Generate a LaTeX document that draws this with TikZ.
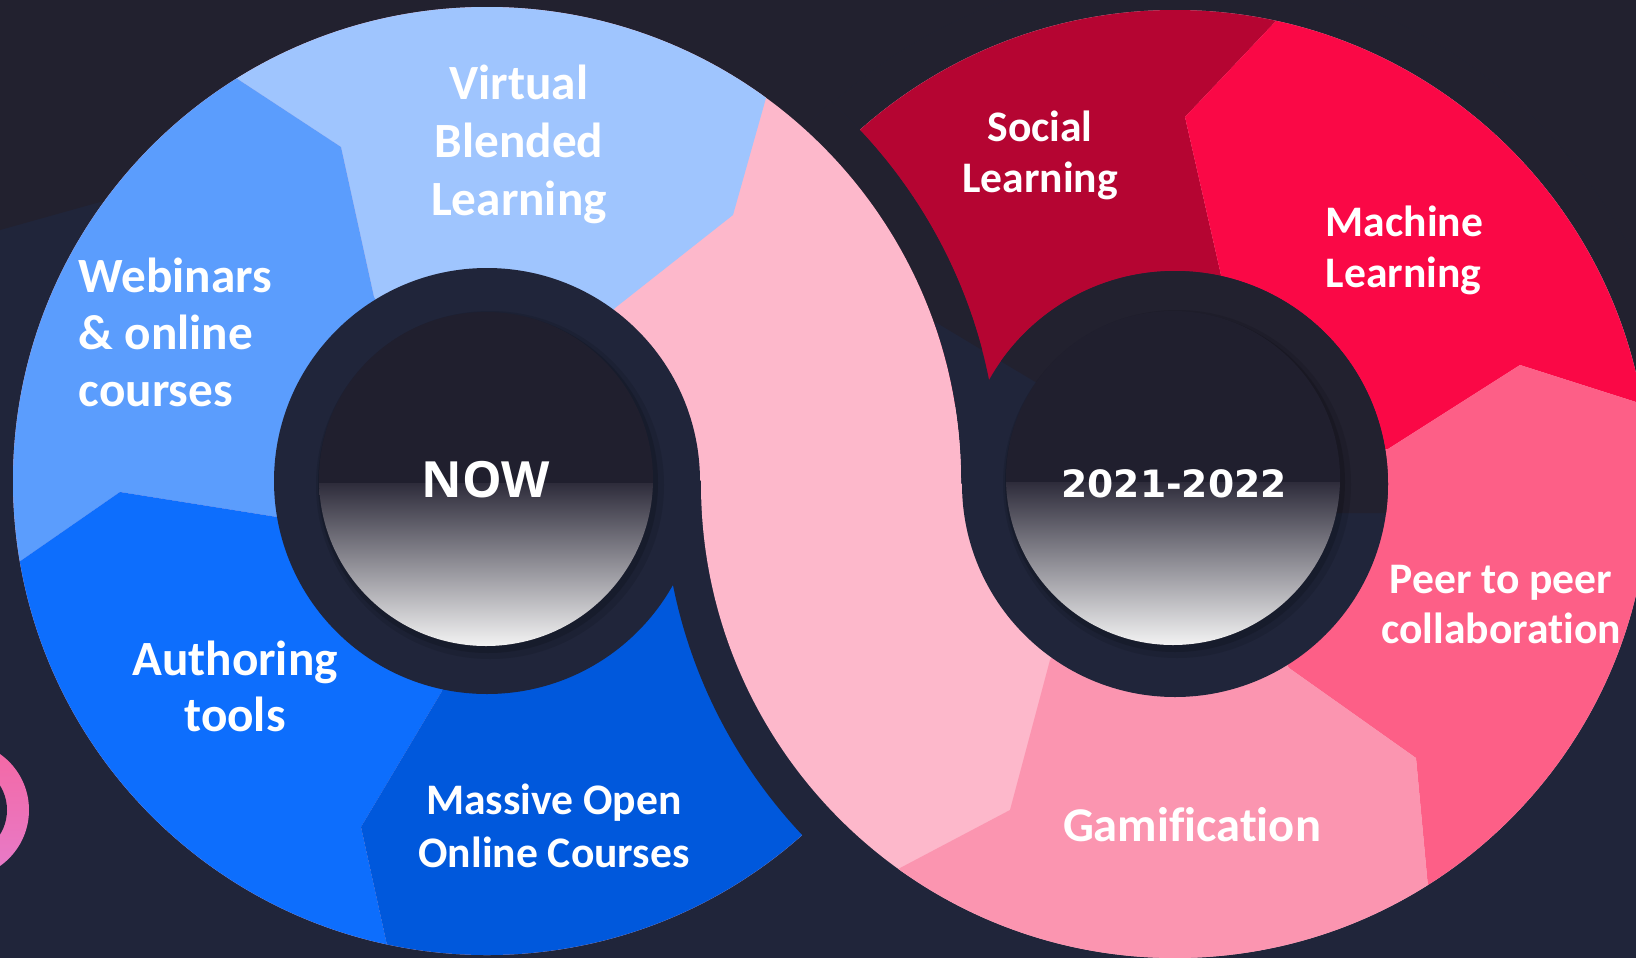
\documentclass[tikz,border=0pt]{standalone}
\usepackage{fontspec}
\setmainfont{Carlito}[Ligatures={CommonOff}]
\newfontfamily\nowfont{Open Sans}
\newfontfamily\yearfont{DejaVu Sans}
\usetikzlibrary{calc}
\definecolor{bgnavy}{HTML}{20253A}
\definecolor{bgdark}{HTML}{22212F}
\definecolor{clight}{HTML}{9FC5FE}
\definecolor{cweb}{HTML}{5B9DFD}
\definecolor{cauth}{HTML}{0D6EFD}
\definecolor{cmooc}{HTML}{0058DC}
\definecolor{cpink}{HTML}{FDB8CB}
\definecolor{csocial}{HTML}{B50532}
\definecolor{cmach}{HTML}{FA0846}
\definecolor{cpeer}{HTML}{FD5F87}
\definecolor{cgam}{HTML}{FB95B0}
\definecolor{innerdark}{HTML}{201F2E}
\definecolor{gtop}{HTML}{2E2C3B}
\definecolor{gbot}{HTML}{F4F4F4}
\definecolor{ringtop}{HTML}{F567A2}
\definecolor{ringbot}{HTML}{E67CCB}

\newcommand\bgpaint{%
  \fill[bgnavy] (-60,-160) rectangle (1860,1160);%
  \fill[bgdark] (-60,-160) -- (-60,247) -- (0,230) -- (100,202) -- (937,323) -- (1254,513) -- (1860,513) -- (1860,-160) -- cycle;}

\newcommand\leftdisc{%
  \fill[cpink] (-60,-160) rectangle (1200,1160);%
  \fill[clight] (L) -- (374,297) -- (341,147) -- (236,78) -- (120,0) -- (120,-100) -- (820,-100) -- (800,-20) -- (766,98) -- (733,215) -- (615,308) -- cycle;%
  \fill[cweb] (L) -- (374,297) -- (341,147) -- (236,78) -- (120,0) -- (-100,0) -- (-80,631) -- (19,562) -- (120,492) -- (277,517) -- cycle;%
  \fill[cauth] (L) -- (277,517) -- (120,492) -- (19,562) -- (-80,631) -- (-80,1050) -- (410,1050) -- (387,945) -- (361,827) -- (442,691) -- cycle;%
  \fill[cmooc] (L) -- (442,691) -- (361,827) -- (387,945) -- (410,1050) -- (1100,1050) -- (1051,686) -- cycle;}

\newcommand\rightdisc{%
  \fill[cpink] (500,-160) rectangle (1860,1160);%
  \fill[csocial] (Rc) -- (611,279) -- (600,-100) -- (1370,-100) -- (1323,-29) -- (1276,21) -- (1185,117) -- (1221,275) -- cycle;%
  \fill[cmach] (Rc) -- (1221,275) -- (1185,117) -- (1276,21) -- (1323,-29) -- (1370,-100) -- (1800,-100) -- (1800,440) -- (1636,402) -- (1520,365) -- (1388,449) -- cycle;%
  \fill[cpeer] (Rc) -- (1388,449) -- (1520,365) -- (1636,402) -- (1800,440) -- (1800,1100) -- (1448,1100) -- (1428,887) -- (1416,758) -- (1289,668) -- cycle;%
  \fill[cgam] (Rc) -- (1289,668) -- (1416,758) -- (1428,887) -- (1448,1100) -- (790,1100) -- (790,926) -- (900,868) -- (1010,810) -- (1050,660) -- cycle;}

\begin{document}
\begin{tikzpicture}[x=0.01cm, y=-0.01cm,
  lbl/.style={text=white, inner sep=0pt, anchor=base, font=\bfseries\fontsize{14}{16}\selectfont},
  lbls/.style={lbl, font=\bfseries\fontsize{12.4}{14}\selectfont}]
\useasboundingbox (0,0) rectangle (1636,957);
\clip (0,0) rectangle (1636,957);
\coordinate (L) at (487,481);
\coordinate (Rc) at (1175,484);
\coordinate (IL) at (486,479);
\coordinate (IR) at (1173,478);
\coordinate (PR) at (-39.5,810);

\bgpaint

% partial pink ring at left edge
\begin{scope}
  \clip (PR) circle (68.5);
  \shade[top color=ringtop, bottom color=ringbot] (-120,740) rectangle (40,880);
  \fill[bgnavy] (PR) circle (46.5);
\end{scope}

% left disc
\begin{scope}
  \clip (L) circle (474);
  \leftdisc
\end{scope}

% right disc with gap
\begin{scope}
  \clip (Rc) circle (512);
  \bgpaint
\end{scope}
\begin{scope}
  \clip (Rc) circle (474);
  \rightdisc
\end{scope}

% upper half: left disc (pink part) over right disc
\begin{scope}
  \clip (-60,-160) -- (1860,-160) -- (1860,494) -- (-60,472) -- cycle;
  \clip (Rc) circle (514);
  \begin{scope}
    \clip (L) ++(512,0) arc[start angle=0, end angle=360, radius=512]
          -- ++(-38,0) arc[start angle=360, end angle=0, radius=474] -- cycle;
    \bgpaint
  \end{scope}
  \fill[cpink] (L) circle (474);
\end{scope}

% rings (background showing through)
\begin{scope}
  \clip (L) circle (213);
  \bgpaint
\end{scope}
\begin{scope}
  \clip (Rc) circle (213);
  \bgpaint
\end{scope}

% inner circles with shadow and gradient
\foreach \c in {IL, IR}{
  \fill[black, opacity=0.10] ($(\c)+(4,6)$) circle (174);
  \fill[black, opacity=0.15] ($(\c)+(2,4)$) circle (170);
  \fill[innerdark] (\c) circle (167);
  \begin{scope}
    \clip (\c) circle (167);
    \shade[top color=gtop, bottom color=gbot] ($(\c)+(-180,4)$) rectangle ($(\c)+(180,168)$);
  \end{scope}
}

% labels
\node[lbl] (vbl1) at (519,99) {Virtual};
\node[lbl] (vbl2) at (519,157) {Blended};
\node[lbl] (vbl3) at (519,215) {Learning};
\node[lbl, anchor=base west] (web1) at (78,292) {Webinars};
\node[lbl, anchor=base west] (web2) at (78,349) {\& online};
\node[lbl, anchor=base west] (web3) at (78,406) {courses};
\node[lbl] (auth1) at (235,675) {Authoring};
\node[lbl] (auth2) at (235,731) {tools};
\node[lbls] (mooc1) at (554,814) {Massive Open};
\node[lbls] (mooc2) at (554,867) {Online Courses};
\node[lbls] (soc1) at (1040,141) {Social};
\node[lbls] (soc2) at (1040,192) {Learning};
\node[lbls, anchor=base west] (mach1) at (1325,236) {Machine};
\node[lbls, anchor=base west] (mach2) at (1325,287) {Learning};
\node[lbls] (peer1) at (1501,593) {Peer to peer};
\node[lbls] (peer2) at (1501,643) {collaboration};
\node[lbl, font=\bfseries\fontsize{13.8}{16}\selectfont] (gam) at (1192,841) {Gamification};
\node[lbl, font=\nowfont\bfseries\fontsize{14.2}{16}\selectfont] (now) at (486,497) {NOW};
\node[lbl, font=\yearfont\bfseries\fontsize{10.7}{13}\selectfont] (year) at (1174,497) {2021-2022};
\end{tikzpicture}
\end{document}
